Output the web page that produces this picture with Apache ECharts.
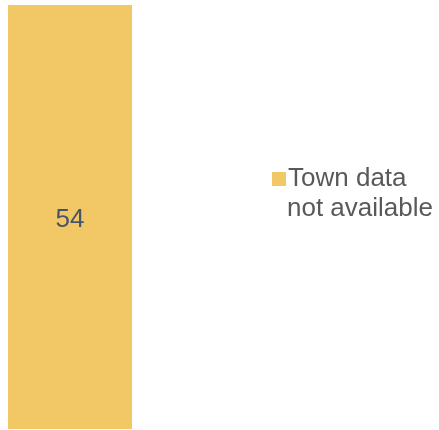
<!DOCTYPE html>
<html><head><meta charset="utf-8">
<script src="https://cdn.jsdelivr.net/npm/echarts@6/dist/echarts.min.js"></script>
<style>html,body{margin:0;padding:0;background:#fff}#c{width:439px;height:430px}</style>
</head><body><div id="c"></div>
<script>
const categories = [''];
const seriesName = 'Town data';
const seriesNameLine2 = 'not available';
const values = [54];

const chart = echarts.init(document.getElementById('c'));
chart.setOption({
  animation: false,
  grid: { left: 8, top: 5, width: 124, bottom: 1, containLabel: false },
  xAxis: { type: 'category', data: categories, show: false },
  yAxis: { type: 'value', min: 0, max: 54, show: false },
  legend: {
    left: 267, top: 161,
    itemWidth: 14, itemHeight: 14, itemGap: 6,
    icon: 'rect',
    textStyle: { fontFamily: 'Liberation Sans', fontSize: 26, color: '#595959', padding: [0,0,0,-3] },
    data: [seriesName]
  },
  graphic: [{
    type: 'text', left: 287, top: 196,
    style: { text: seriesNameLine2, font: '26px "Liberation Sans"', fill: '#595959' }
  }],
  series: [{
    name: seriesName, type: 'bar', data: values, barWidth: '100%',
    itemStyle: { color: '#F2C766' },
    label: { show: true, position: 'inside', offset: [0, 3], fontFamily: 'Liberation Sans', fontSize: 26, color: '#44546A' }
  }]
});
</script></body></html>
